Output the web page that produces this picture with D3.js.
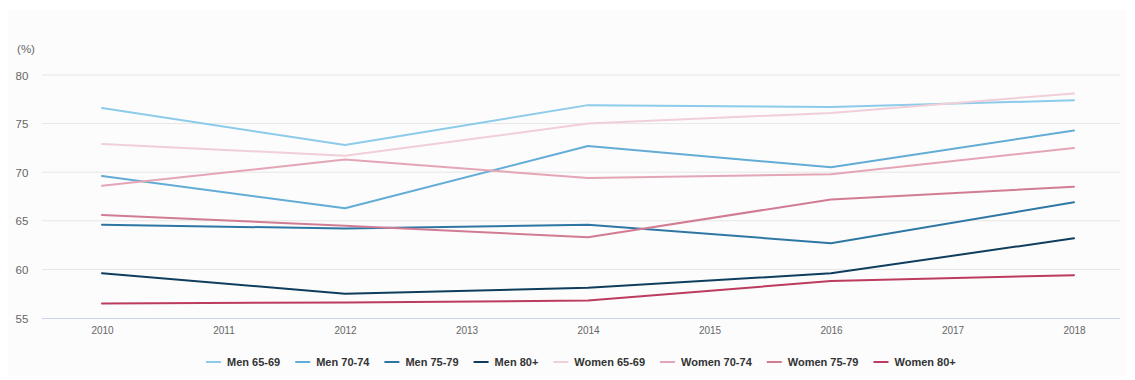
<!DOCTYPE html>
<html>
<head>
<meta charset="utf-8">
<script src="https://cdn.jsdelivr.net/npm/d3@7/dist/d3.min.js"></script>
<style>
  html, body { margin: 0; padding: 0; background: #ffffff; }
  svg { display: block; font-family: "Liberation Sans", Arial, sans-serif; }
</style>
</head>
<body>
<svg id="chart" width="1135" height="380"></svg>
<script>
// Years shown on the x axis
const years = [2010, 2011, 2012, 2013, 2014, 2015, 2016, 2017, 2018];
// Survey years with observations
const dataYears = [2010, 2012, 2014, 2016, 2018];
const yTicks = [55, 60, 65, 70, 75, 80];

const seriesNames = ["Men 65-69", "Men 70-74", "Men 75-79", "Men 80+",
                     "Women 65-69", "Women 70-74", "Women 75-79", "Women 80+"];

const men6569   = [76.6, 72.8, 76.9, 76.7, 77.4];
const men7074   = [69.6, 66.3, 72.7, 70.5, 74.3];
const men7579   = [64.6, 64.2, 64.6, 62.7, 66.9];
const men80     = [59.6, 57.5, 58.1, 59.6, 63.2];
const women6569 = [72.9, 71.7, 75.0, 76.1, 78.1];
const women7074 = [68.6, 71.3, 69.4, 69.8, 72.5];
const women7579 = [65.6, 64.5, 63.3, 67.2, 68.5];
const women80   = [56.5, 56.6, 56.8, 58.8, 59.4];

const seriesValues = [men6569, men7074, men7579, men80,
                      women6569, women7074, women7579, women80];

const colors = ["#8ccbea", "#62acd6", "#2f77a3", "#0f3d5e",
                "#f0cfd8", "#e4a6b6", "#d27c94", "#bb3c5e"];

const svg = d3.select("#chart");
const W = 1135, H = 380;

// light page panel
svg.append("rect").attr("x", 0).attr("y", 0).attr("width", W).attr("height", H).attr("fill", "#ffffff");
svg.append("rect").attr("x", 8).attr("y", 10).attr("width", W - 16).attr("height", H - 14).attr("fill", "#fcfcfc");

const plotLeft = 42, plotRight = 1120;
const x = d3.scalePoint().domain(years).range([102, 1074]);
const y = d3.scaleLinear().domain([55, 80]).range([318, 75]);

// horizontal grid
svg.append("g").selectAll("line").data(yTicks.filter(t => t !== 55)).join("line")
  .attr("x1", plotLeft).attr("x2", plotRight)
  .attr("y1", d => y(d)).attr("y2", d => y(d))
  .attr("stroke", "#e6e6e6").attr("stroke-width", 1);

// baseline
svg.append("line")
  .attr("x1", plotLeft).attr("x2", plotRight)
  .attr("y1", y(55) + 0.5).attr("y2", y(55) + 0.5)
  .attr("stroke", "#ccd6eb").attr("stroke-width", 1);

// y axis labels
const yAxis = d3.axisLeft(y).tickValues(yTicks).tickSize(0).tickPadding(0);
const gy = svg.append("g").attr("transform", "translate(22,0)").call(yAxis);
gy.select(".domain").remove();
gy.selectAll("text").attr("fill", "#666666").attr("font-size", 11.5)
  .attr("font-family", "Liberation Sans, Arial, sans-serif")
  .attr("text-anchor", "middle").attr("dy", "0.35em");

svg.append("text").attr("x", 26).attr("y", 53).attr("text-anchor", "middle")
  .attr("fill", "#666666").attr("font-size", 11.5).text("(%)");

// x axis labels
const xAxis = d3.axisBottom(x).tickSize(0).tickPadding(0).tickFormat(d3.format("d"));
const gx = svg.append("g").attr("transform", "translate(0,327)").call(xAxis);
gx.select(".domain").remove();
gx.selectAll("text").attr("fill", "#666666").attr("font-size", 10)
  .attr("font-family", "Liberation Sans, Arial, sans-serif").attr("dy", "0.71em");

// series lines
const line = d3.line().x(d => x(d.year)).y(d => y(d.value));
seriesNames.forEach((name, i) => {
  const pts = dataYears.map((yr, j) => ({ year: yr, value: seriesValues[i][j] }));
  svg.append("path").datum(pts)
    .attr("d", line).attr("fill", "none")
    .attr("stroke", colors[i]).attr("stroke-width", 2)
    .attr("stroke-linejoin", "round").attr("stroke-linecap", "round");
});

// legend
const legend = svg.append("g").attr("transform", "translate(0,362)");
const items = [];
seriesNames.forEach((name, i) => {
  const g = legend.append("g");
  g.append("line").attr("x1", 0).attr("x2", 15).attr("y1", 0).attr("y2", 0)
    .attr("stroke", colors[i]).attr("stroke-width", 2);
  const t = g.append("text").attr("x", 21).attr("y", 0).attr("dy", "0.35em")
    .attr("font-size", 11).attr("font-weight", "bold").attr("fill", "#333333").text(name);
  const w = 21 + t.node().getComputedTextLength();
  items.push({ g, w });
});
const gap = 15;
let lx = 206;
items.forEach(it => { it.g.attr("transform", `translate(${lx},0)`); lx += it.w + gap; });
</script>
</body>
</html>
